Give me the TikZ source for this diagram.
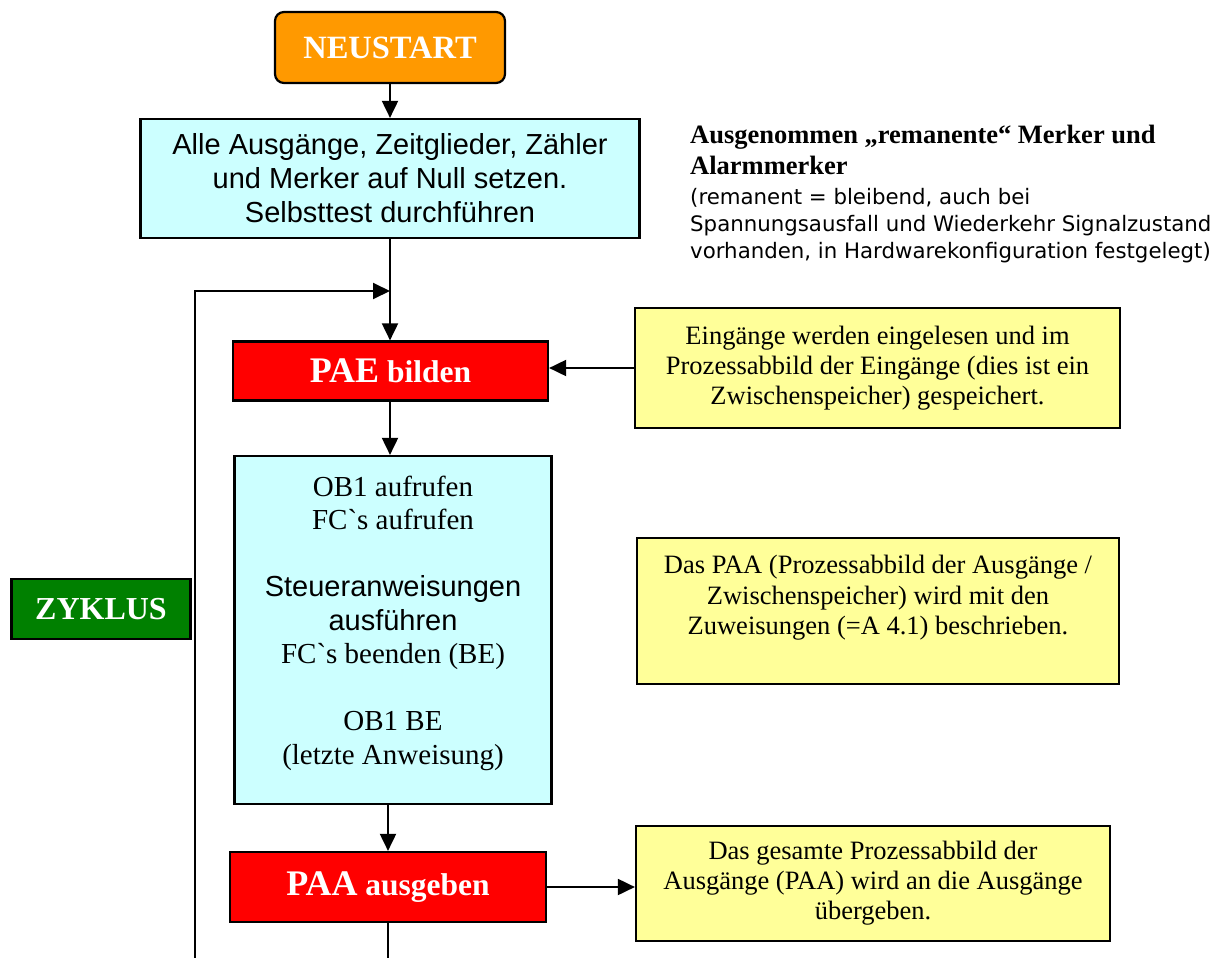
\documentclass[tikz,border=0pt]{standalone}
\usepackage{fontspec}
\setmainfont{Liberation Serif}[Ligatures=TeXOff]
\setsansfont{Liberation Sans}[Ligatures=TeXOff]
\newfontfamily\dvsans{DejaVu Sans}
\usetikzlibrary{arrows.meta}
\definecolor{neuorange}{HTML}{FF9900}
\definecolor{boxcyan}{HTML}{CCFFFF}
\definecolor{boxred}{HTML}{FF0000}
\definecolor{boxgreen}{HTML}{008000}
\definecolor{boxyellow}{HTML}{FFFF99}
\begin{document}
\begin{tikzpicture}[x=1pt,y=-1pt,
  box/.style={draw=black, line width=2.2pt, inner sep=0pt, align=center},
  cyanbox/.style={box, fill=boxcyan},
  redbox/.style={box, fill=boxred, text=white, font=\bfseries},
  yellowbox/.style={box, fill=boxyellow, font=\fontsize{26.5}{30}\selectfont},
  plain/.style={inner sep=0pt, align=center},
  anno/.style={inner sep=0pt, anchor=base west},
  arr/.style={line width=1.9pt, -{Triangle[length=17pt,width=16pt]}},
  ln/.style={line width=1.9pt}]
\useasboundingbox (0,0) rectangle (1223,958);

% nodes
\node[box, fill=neuorange, rounded corners=9pt, minimum width=230pt, minimum height=71pt,
      text=white, font=\fontsize{32.5}{37}\selectfont\bfseries] (neu) at (390,47.5) {NEUSTART};

\node[cyanbox, minimum width=499pt, minimum height=119pt,
      font=\sffamily\fontsize{29}{34}\selectfont] (c1) at (390,178.5)
  {Alle Ausgänge, Zeitglieder, Zähler\\und Merker auf Null setzen.\\Selbsttest durchführen};

\node[redbox, minimum width=315pt, minimum height=59pt] (pae) at (390.5,371)
  {\fontsize{36}{40}\selectfont PAE\fontsize{31.5}{36}\selectfont\ bilden};

\node[cyanbox, minimum width=317pt, minimum height=348pt] (c2) at (393,630) {};
\node[plain, font=\fontsize{29}{33.5}\selectfont] (c2t) at (393,623)
  {OB1 aufrufen\\FC`s aufrufen\\[33.5pt]
   {\sffamily Steueranweisungen}\\{\sffamily ausführen}\\FC`s beenden (BE)\\[33.5pt]
   OB1 BE\\(letzte Anweisung)};

\node[redbox, minimum width=316pt, minimum height=70pt] (paa) at (388,887)
  {\fontsize{36}{40}\selectfont PAA\fontsize{31.5}{36}\selectfont\ ausgeben};

\node[box, fill=boxgreen, text=white, minimum width=179pt, minimum height=60pt,
      font=\fontsize{32}{36}\selectfont\bfseries] (zyk) at (101,609) {ZYKLUS};

\node[yellowbox, minimum width=485pt, minimum height=120pt] (y1) at (877.5,368)
  {Eingänge werden eingelesen und im\\Prozessabbild der Eingänge (dies ist ein\\Zwischenspeicher) gespeichert.};

\node[yellowbox, minimum width=482pt, minimum height=146pt] (y2) at (878,611) {};
\node[plain, font=\fontsize{26.5}{30.5}\selectfont] (y2t) at (878,598)
  {Das PAA (Prozessabbild der Ausgänge /\\Zwischenspeicher) wird mit den\\Zuweisungen (=A 4.1) beschrieben.};

\node[yellowbox, minimum width=474pt, minimum height=115pt] (y3) at (873,883.5)
  {Das gesamte Prozessabbild der\\Ausgänge (PAA) wird an die Ausgänge\\übergeben.};

% annotation
\node[anno, font=\fontsize{26.5}{31}\selectfont\bfseries] (a1) at (690,143) {Ausgenommen „remanente“ Merker und};
\node[anno, font=\fontsize{26.5}{31}\selectfont\bfseries] (a2) at (690,174) {Alarmmerker};
\node[anno, font=\dvsans\fontsize{21.3}{26}\selectfont] (a3) at (690,204) {(remanent = bleibend, auch bei};
\node[anno, font=\dvsans\fontsize{21.3}{26}\selectfont] (a4) at (690,231) {Spannungsausfall und Wiederkehr Signalzustand};
\node[anno, font=\dvsans\fontsize{21.3}{26}\selectfont] (a5) at (690,258) {vorhanden, in Hardwarekonfiguration festgelegt)};

% connectors
\coordinate (j) at (390,291);
\coordinate (lb) at (195,958);
\coordinate (pb) at (388,958);
\draw[arr] (neu.south) -- (c1.north);
\draw[arr] (c1.south) -- (c1.south |- pae.north);
\draw[arr] (lb) |- (j);
\draw[arr] (y1.west) -- (y1.west -| pae.east);
\draw[arr] (c1.south |- pae.south) -- (c1.south |- c2.north);
\draw[arr] (paa.north |- c2.south) -- (paa.north);
\draw[arr] (paa.east) -- (paa.east -| y3.west);
\draw[ln] (paa.south) -- (pb);
\end{tikzpicture}
\end{document}
